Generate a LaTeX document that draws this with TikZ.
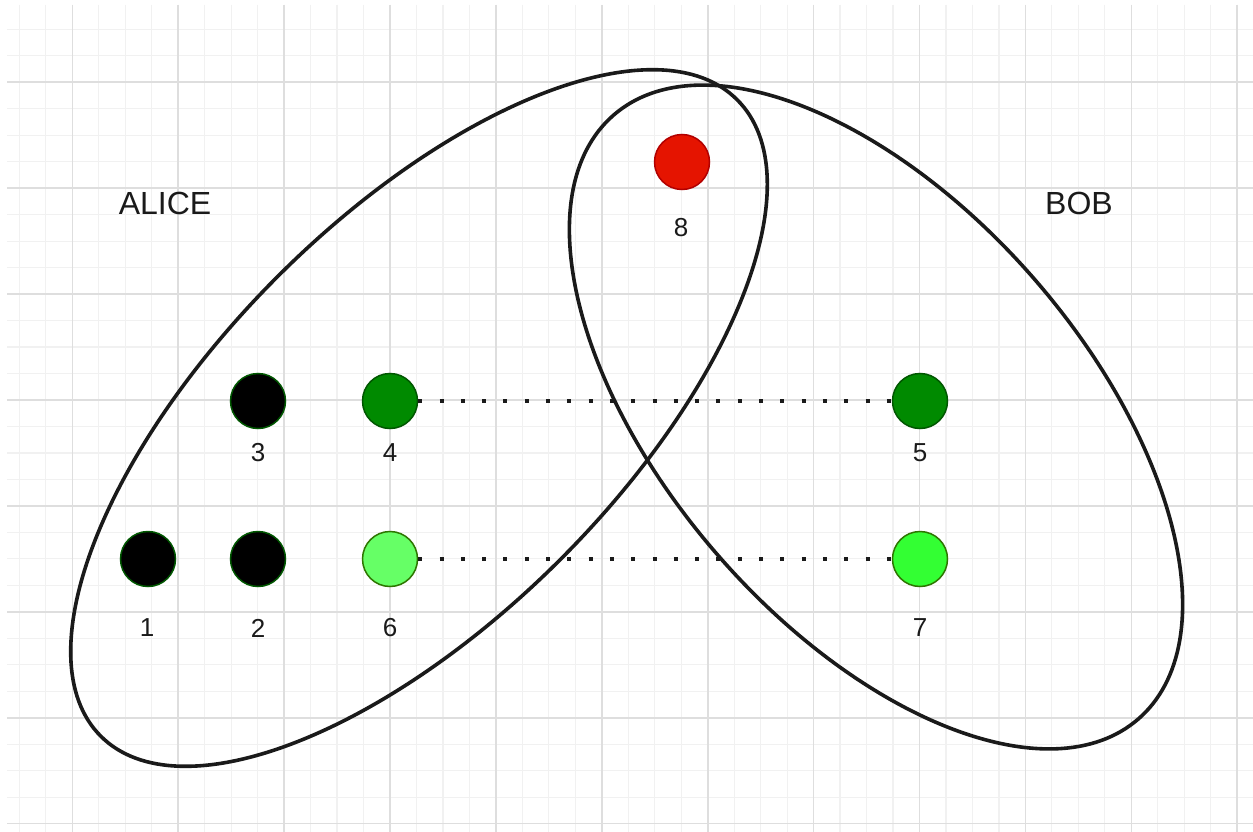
\documentclass[tikz,border=0pt]{standalone}
\usepackage{fontspec}
\setmainfont{Liberation Sans}
\definecolor{gmin}{HTML}{F1F1F1}
\definecolor{gmaj}{HTML}{DEDEDE}
\definecolor{dkgreen}{HTML}{005700}
\definecolor{midgreen}{HTML}{008A00}
\definecolor{ltgreenA}{HTML}{66FF66}
\definecolor{ltgreenB}{HTML}{33FF33}
\definecolor{lgborder}{HTML}{2D7600}
\definecolor{redfill}{HTML}{E51400}
\definecolor{redborder}{HTML}{B20000}
\definecolor{inkc}{HTML}{1A1A1A}
\tikzset{
  minorline/.style={gmin, line width=1.2pt},
  majorline/.style={gmaj, line width=1.6pt},
  dotnode/.style={circle, minimum size=55pt, inner sep=0pt, line width=1.5pt},
  blackdot/.style={dotnode, fill=black, draw=dkgreen},
  greendot/.style={dotnode, fill=midgreen, draw=dkgreen},
  lightdotA/.style={dotnode, fill=ltgreenA, draw=lgborder},
  lightdotB/.style={dotnode, fill=ltgreenB, draw=lgborder},
  reddot/.style={dotnode, fill=redfill, draw=redborder},
  numlabel/.style={inner sep=0pt, font=\fontsize{26}{30}\selectfont, text=inkc},
  namelabel/.style={inner sep=0pt, font=\fontsize{32}{38}\selectfont, text=inkc},
  ring/.style={draw=inkc, line width=3.6pt},
  dotline/.style={draw=inkc, line width=4pt, dash pattern=on 4pt off 17.3pt}
}
\begin{document}
\begin{tikzpicture}[x=1pt,y=-1pt]
\useasboundingbox (0,0) rectangle (1253,832);
\fill[white] (0,0) rectangle (1253,832);
% grid
\foreach \k in {0,...,46} {
  \draw[minorline] ({390+(\k-14)*26.475},5) -- ({390+(\k-14)*26.475},832);
}
\foreach \j in {-14,...,16} {
  \draw[minorline] (7,{400+\j*26.475}) -- (1253,{400+\j*26.475});
}
\foreach \m in {-3,...,8} {
  \draw[majorline] ({390+\m*105.9},5) -- ({390+\m*105.9},832);
}
\foreach \m in {-3,...,4} {
  \draw[majorline] (7,{400+\m*105.9}) -- (1253,{400+\m*105.9});
}
% ellipses
\draw[ring, rotate around={45:(419,418)}] (419,418) ellipse [x radius=450pt, y radius=200pt];
\draw[ring, rotate around={-49:(876,417)}] (876,417) ellipse [x radius=400pt, y radius=210pt];
% labels
\node[namelabel] (alice) at (165,203) {ALICE};
\node[namelabel] (bob) at (1079,203) {BOB};
% dots
\node[blackdot] (n1) at (148,559) {};
\node[blackdot] (n2) at (258,559) {};
\node[blackdot] (n3) at (258,401) {};
\node[greendot] (n4) at (390,401) {};
\node[greendot] (n5) at (920,401) {};
\node[lightdotA] (n6) at (390,559) {};
\node[lightdotB] (n7) at (920,559) {};
\node[reddot] (n8) at (682,162) {};
% number labels
\node[numlabel] (l1) at (147,628) {1};
\node[numlabel] (l2) at (258,628) {2};
\node[numlabel] (l3) at (258,453) {3};
\node[numlabel] (l4) at (390,453) {4};
\node[numlabel] (l5) at (920,453) {5};
\node[numlabel] (l6) at (390,628) {6};
\node[numlabel] (l7) at (920,628) {7};
\node[numlabel] (l8) at (681,228) {8};
% dotted connectors
\draw[dotline] (n4) -- (n5);
\draw[dotline] (n6) -- (n7);
\end{tikzpicture}
\end{document}
